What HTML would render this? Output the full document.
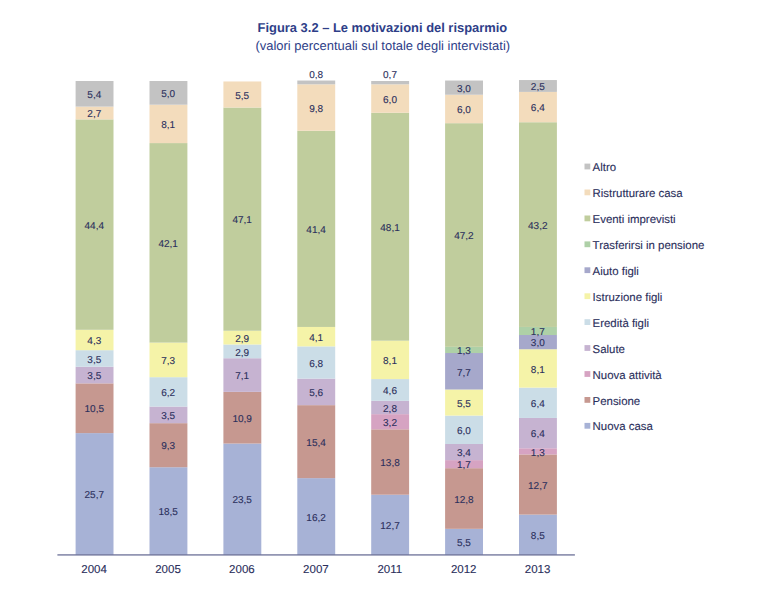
<!DOCTYPE html>
<html><head><meta charset="utf-8"><title>Figura 3.2</title>
<style>
html,body{margin:0;padding:0;background:#fff;}
body{width:760px;height:598px;overflow:hidden;font-family:"Liberation Sans",sans-serif;}
svg{display:block}
text{font-family:"Liberation Sans",sans-serif;text-rendering:geometricPrecision;stroke-width:0.12px;}
</style></head><body>
<svg width="760" height="598" viewBox="0 0 760 598">
<rect width="760" height="598" fill="#ffffff"/>
<text x="382.4" y="32.2" text-anchor="middle" font-size="12.92" font-weight="bold" fill="#2e3e88">Figura 3.2 – Le motivazioni del risparmio</text>
<text x="382.8" y="49.8" text-anchor="middle" font-size="12.95" fill="#2e3e88">(valori percentuali sul totale degli intervistati)</text>
<rect x="75.6" y="433.11" width="37.9" height="121.79" fill="#a7b2d6"/>
<rect x="75.6" y="383.35" width="37.9" height="49.76" fill="#c69890"/>
<rect x="75.6" y="366.76" width="37.9" height="16.59" fill="#c6b3d1"/>
<rect x="75.6" y="350.18" width="37.9" height="16.59" fill="#cbdde7"/>
<rect x="75.6" y="329.80" width="37.9" height="20.38" fill="#f5f3a8"/>
<rect x="75.6" y="119.39" width="37.9" height="210.41" fill="#c0cd9d"/>
<rect x="75.6" y="106.59" width="37.9" height="12.80" fill="#f3dcbc"/>
<rect x="75.6" y="81.00" width="37.9" height="25.59" fill="#c3c3c3"/>
<text x="94.1" y="572.7" text-anchor="middle" font-size="11.5" fill="#2b2f5c" stroke="#2b2f5c">2004</text>
<rect x="149.5" y="467.23" width="37.9" height="87.67" fill="#a7b2d6"/>
<rect x="149.5" y="423.16" width="37.9" height="44.07" fill="#c69890"/>
<rect x="149.5" y="406.57" width="37.9" height="16.59" fill="#c6b3d1"/>
<rect x="149.5" y="377.19" width="37.9" height="29.38" fill="#cbdde7"/>
<rect x="149.5" y="342.59" width="37.9" height="34.59" fill="#f5f3a8"/>
<rect x="149.5" y="143.08" width="37.9" height="199.51" fill="#c0cd9d"/>
<rect x="149.5" y="104.70" width="37.9" height="38.39" fill="#f3dcbc"/>
<rect x="149.5" y="81.00" width="37.9" height="23.70" fill="#c3c3c3"/>
<text x="168.0" y="572.7" text-anchor="middle" font-size="11.5" fill="#2b2f5c" stroke="#2b2f5c">2005</text>
<rect x="223.4" y="443.53" width="37.9" height="111.37" fill="#a7b2d6"/>
<rect x="223.4" y="391.88" width="37.9" height="51.66" fill="#c69890"/>
<rect x="223.4" y="358.23" width="37.9" height="33.65" fill="#c6b3d1"/>
<rect x="223.4" y="344.49" width="37.9" height="13.74" fill="#cbdde7"/>
<rect x="223.4" y="330.75" width="37.9" height="13.74" fill="#f5f3a8"/>
<rect x="223.4" y="107.54" width="37.9" height="223.21" fill="#c0cd9d"/>
<rect x="223.4" y="81.47" width="37.9" height="26.06" fill="#f3dcbc"/>
<text x="241.9" y="572.7" text-anchor="middle" font-size="11.5" fill="#2b2f5c" stroke="#2b2f5c">2006</text>
<rect x="297.3" y="478.13" width="37.9" height="76.77" fill="#a7b2d6"/>
<rect x="297.3" y="405.15" width="37.9" height="72.98" fill="#c69890"/>
<rect x="297.3" y="378.61" width="37.9" height="26.54" fill="#c6b3d1"/>
<rect x="297.3" y="346.38" width="37.9" height="32.23" fill="#cbdde7"/>
<rect x="297.3" y="326.95" width="37.9" height="19.43" fill="#f5f3a8"/>
<rect x="297.3" y="130.76" width="37.9" height="196.19" fill="#c0cd9d"/>
<rect x="297.3" y="84.32" width="37.9" height="46.44" fill="#f3dcbc"/>
<rect x="297.3" y="80.53" width="37.9" height="3.79" fill="#c3c3c3"/>
<text x="315.9" y="572.7" text-anchor="middle" font-size="11.5" fill="#2b2f5c" stroke="#2b2f5c">2007</text>
<rect x="371.2" y="494.71" width="37.9" height="60.19" fill="#a7b2d6"/>
<rect x="371.2" y="429.32" width="37.9" height="65.40" fill="#c69890"/>
<rect x="371.2" y="414.15" width="37.9" height="15.16" fill="#d6a3c2"/>
<rect x="371.2" y="400.88" width="37.9" height="13.27" fill="#c6b3d1"/>
<rect x="371.2" y="379.08" width="37.9" height="21.80" fill="#cbdde7"/>
<rect x="371.2" y="340.70" width="37.9" height="38.39" fill="#f5f3a8"/>
<rect x="371.2" y="112.75" width="37.9" height="227.95" fill="#c0cd9d"/>
<rect x="371.2" y="84.32" width="37.9" height="28.43" fill="#f3dcbc"/>
<rect x="371.2" y="81.00" width="37.9" height="3.32" fill="#c3c3c3"/>
<text x="389.8" y="572.7" text-anchor="middle" font-size="11.5" fill="#2b2f5c" stroke="#2b2f5c">2011</text>
<rect x="445.1" y="528.84" width="37.9" height="26.06" fill="#a7b2d6"/>
<rect x="445.1" y="468.18" width="37.9" height="60.66" fill="#c69890"/>
<rect x="445.1" y="460.12" width="37.9" height="8.06" fill="#d6a3c2"/>
<rect x="445.1" y="444.01" width="37.9" height="16.11" fill="#c6b3d1"/>
<rect x="445.1" y="415.57" width="37.9" height="28.43" fill="#cbdde7"/>
<rect x="445.1" y="389.51" width="37.9" height="26.06" fill="#f5f3a8"/>
<rect x="445.1" y="353.02" width="37.9" height="36.49" fill="#a6a8cb"/>
<rect x="445.1" y="346.86" width="37.9" height="6.16" fill="#aed0a7"/>
<rect x="445.1" y="123.18" width="37.9" height="223.68" fill="#c0cd9d"/>
<rect x="445.1" y="94.74" width="37.9" height="28.43" fill="#f3dcbc"/>
<rect x="445.1" y="80.53" width="37.9" height="14.22" fill="#c3c3c3"/>
<text x="463.7" y="572.7" text-anchor="middle" font-size="11.5" fill="#2b2f5c" stroke="#2b2f5c">2012</text>
<rect x="519.0" y="514.62" width="37.9" height="40.28" fill="#a7b2d6"/>
<rect x="519.0" y="454.43" width="37.9" height="60.19" fill="#c69890"/>
<rect x="519.0" y="448.27" width="37.9" height="6.16" fill="#d6a3c2"/>
<rect x="519.0" y="417.94" width="37.9" height="30.33" fill="#c6b3d1"/>
<rect x="519.0" y="387.61" width="37.9" height="30.33" fill="#cbdde7"/>
<rect x="519.0" y="349.23" width="37.9" height="38.39" fill="#f5f3a8"/>
<rect x="519.0" y="335.01" width="37.9" height="14.22" fill="#a6a8cb"/>
<rect x="519.0" y="326.95" width="37.9" height="8.06" fill="#aed0a7"/>
<rect x="519.0" y="122.23" width="37.9" height="204.72" fill="#c0cd9d"/>
<rect x="519.0" y="91.90" width="37.9" height="30.33" fill="#f3dcbc"/>
<rect x="519.0" y="80.05" width="37.9" height="11.85" fill="#c3c3c3"/>
<text x="537.6" y="572.7" text-anchor="middle" font-size="11.5" fill="#2b2f5c" stroke="#2b2f5c">2013</text>
<text x="94.3" y="498.2" text-anchor="middle" font-size="10" fill="#2b2f5c" stroke="#2b2f5c">25,7</text>
<text x="94.3" y="412.4" text-anchor="middle" font-size="10" fill="#2b2f5c" stroke="#2b2f5c">10,5</text>
<text x="94.3" y="379.3" text-anchor="middle" font-size="10" fill="#2b2f5c" stroke="#2b2f5c">3,5</text>
<text x="94.3" y="362.7" text-anchor="middle" font-size="10" fill="#2b2f5c" stroke="#2b2f5c">3,5</text>
<text x="94.3" y="344.2" text-anchor="middle" font-size="10" fill="#2b2f5c" stroke="#2b2f5c">4,3</text>
<text x="94.3" y="228.8" text-anchor="middle" font-size="10" fill="#2b2f5c" stroke="#2b2f5c">44,4</text>
<text x="94.3" y="117.2" text-anchor="middle" font-size="10" fill="#2b2f5c" stroke="#2b2f5c">2,7</text>
<text x="94.3" y="98.0" text-anchor="middle" font-size="10" fill="#2b2f5c" stroke="#2b2f5c">5,4</text>
<text x="168.2" y="515.3" text-anchor="middle" font-size="10" fill="#2b2f5c" stroke="#2b2f5c">18,5</text>
<text x="168.2" y="449.4" text-anchor="middle" font-size="10" fill="#2b2f5c" stroke="#2b2f5c">9,3</text>
<text x="168.2" y="419.1" text-anchor="middle" font-size="10" fill="#2b2f5c" stroke="#2b2f5c">3,5</text>
<text x="168.2" y="396.1" text-anchor="middle" font-size="10" fill="#2b2f5c" stroke="#2b2f5c">6,2</text>
<text x="168.2" y="364.1" text-anchor="middle" font-size="10" fill="#2b2f5c" stroke="#2b2f5c">7,3</text>
<text x="168.2" y="247.0" text-anchor="middle" font-size="10" fill="#2b2f5c" stroke="#2b2f5c">42,1</text>
<text x="168.2" y="128.1" text-anchor="middle" font-size="10" fill="#2b2f5c" stroke="#2b2f5c">8,1</text>
<text x="168.2" y="97.0" text-anchor="middle" font-size="10" fill="#2b2f5c" stroke="#2b2f5c">5,0</text>
<text x="242.2" y="503.4" text-anchor="middle" font-size="10" fill="#2b2f5c" stroke="#2b2f5c">23,5</text>
<text x="242.2" y="421.9" text-anchor="middle" font-size="10" fill="#2b2f5c" stroke="#2b2f5c">10,9</text>
<text x="242.2" y="379.3" text-anchor="middle" font-size="10" fill="#2b2f5c" stroke="#2b2f5c">7,1</text>
<text x="242.2" y="355.6" text-anchor="middle" font-size="10" fill="#2b2f5c" stroke="#2b2f5c">2,9</text>
<text x="242.2" y="341.8" text-anchor="middle" font-size="10" fill="#2b2f5c" stroke="#2b2f5c">2,9</text>
<text x="242.2" y="223.3" text-anchor="middle" font-size="10" fill="#2b2f5c" stroke="#2b2f5c">47,1</text>
<text x="242.2" y="98.7" text-anchor="middle" font-size="10" fill="#2b2f5c" stroke="#2b2f5c">5,5</text>
<text x="316.1" y="520.7" text-anchor="middle" font-size="10" fill="#2b2f5c" stroke="#2b2f5c">16,2</text>
<text x="316.1" y="445.8" text-anchor="middle" font-size="10" fill="#2b2f5c" stroke="#2b2f5c">15,4</text>
<text x="316.1" y="396.1" text-anchor="middle" font-size="10" fill="#2b2f5c" stroke="#2b2f5c">5,6</text>
<text x="316.1" y="366.7" text-anchor="middle" font-size="10" fill="#2b2f5c" stroke="#2b2f5c">6,8</text>
<text x="316.1" y="340.9" text-anchor="middle" font-size="10" fill="#2b2f5c" stroke="#2b2f5c">4,1</text>
<text x="316.1" y="233.1" text-anchor="middle" font-size="10" fill="#2b2f5c" stroke="#2b2f5c">41,4</text>
<text x="316.1" y="111.7" text-anchor="middle" font-size="10" fill="#2b2f5c" stroke="#2b2f5c">9,8</text>
<text x="316.1" y="77.6" text-anchor="middle" font-size="10" fill="#2b2f5c" stroke="#2b2f5c">0,8</text>
<text x="390.0" y="529.0" text-anchor="middle" font-size="10" fill="#2b2f5c" stroke="#2b2f5c">12,7</text>
<text x="390.0" y="466.2" text-anchor="middle" font-size="10" fill="#2b2f5c" stroke="#2b2f5c">13,8</text>
<text x="390.0" y="425.9" text-anchor="middle" font-size="10" fill="#2b2f5c" stroke="#2b2f5c">3,2</text>
<text x="390.0" y="411.7" text-anchor="middle" font-size="10" fill="#2b2f5c" stroke="#2b2f5c">2,8</text>
<text x="390.0" y="394.2" text-anchor="middle" font-size="10" fill="#2b2f5c" stroke="#2b2f5c">4,6</text>
<text x="390.0" y="364.1" text-anchor="middle" font-size="10" fill="#2b2f5c" stroke="#2b2f5c">8,1</text>
<text x="390.0" y="230.9" text-anchor="middle" font-size="10" fill="#2b2f5c" stroke="#2b2f5c">48,1</text>
<text x="390.0" y="102.7" text-anchor="middle" font-size="10" fill="#2b2f5c" stroke="#2b2f5c">6,0</text>
<text x="390.0" y="78.1" text-anchor="middle" font-size="10" fill="#2b2f5c" stroke="#2b2f5c">0,7</text>
<text x="463.9" y="546.1" text-anchor="middle" font-size="10" fill="#2b2f5c" stroke="#2b2f5c">5,5</text>
<text x="463.9" y="502.7" text-anchor="middle" font-size="10" fill="#2b2f5c" stroke="#2b2f5c">12,8</text>
<text x="463.9" y="468.3" text-anchor="middle" font-size="10" fill="#2b2f5c" stroke="#2b2f5c">1,7</text>
<text x="463.9" y="456.3" text-anchor="middle" font-size="10" fill="#2b2f5c" stroke="#2b2f5c">3,4</text>
<text x="463.9" y="434.0" text-anchor="middle" font-size="10" fill="#2b2f5c" stroke="#2b2f5c">6,0</text>
<text x="463.9" y="406.7" text-anchor="middle" font-size="10" fill="#2b2f5c" stroke="#2b2f5c">5,5</text>
<text x="463.9" y="375.5" text-anchor="middle" font-size="10" fill="#2b2f5c" stroke="#2b2f5c">7,7</text>
<text x="463.9" y="354.1" text-anchor="middle" font-size="10" fill="#2b2f5c" stroke="#2b2f5c">1,3</text>
<text x="463.9" y="239.2" text-anchor="middle" font-size="10" fill="#2b2f5c" stroke="#2b2f5c">47,2</text>
<text x="463.9" y="113.2" text-anchor="middle" font-size="10" fill="#2b2f5c" stroke="#2b2f5c">6,0</text>
<text x="463.9" y="91.8" text-anchor="middle" font-size="10" fill="#2b2f5c" stroke="#2b2f5c">3,0</text>
<text x="537.8" y="539.0" text-anchor="middle" font-size="10" fill="#2b2f5c" stroke="#2b2f5c">8,5</text>
<text x="537.8" y="488.7" text-anchor="middle" font-size="10" fill="#2b2f5c" stroke="#2b2f5c">12,7</text>
<text x="537.8" y="455.6" text-anchor="middle" font-size="10" fill="#2b2f5c" stroke="#2b2f5c">1,3</text>
<text x="537.8" y="437.3" text-anchor="middle" font-size="10" fill="#2b2f5c" stroke="#2b2f5c">6,4</text>
<text x="537.8" y="407.0" text-anchor="middle" font-size="10" fill="#2b2f5c" stroke="#2b2f5c">6,4</text>
<text x="537.8" y="372.6" text-anchor="middle" font-size="10" fill="#2b2f5c" stroke="#2b2f5c">8,1</text>
<text x="537.8" y="346.3" text-anchor="middle" font-size="10" fill="#2b2f5c" stroke="#2b2f5c">3,0</text>
<text x="537.8" y="335.2" text-anchor="middle" font-size="10" fill="#2b2f5c" stroke="#2b2f5c">1,7</text>
<text x="537.8" y="228.8" text-anchor="middle" font-size="10" fill="#2b2f5c" stroke="#2b2f5c">43,2</text>
<text x="537.8" y="111.3" text-anchor="middle" font-size="10" fill="#2b2f5c" stroke="#2b2f5c">6,4</text>
<text x="537.8" y="90.2" text-anchor="middle" font-size="10" fill="#2b2f5c" stroke="#2b2f5c">2,5</text>
<rect x="57.4" y="554.1" width="517.5" height="1.6" fill="rgba(108,113,152,0.82)"/>
<rect x="584.5" y="163.6" width="5.8" height="5.8" fill="#c3c3c3"/>
<text x="592.6" y="171.1" font-size="11.42" fill="#2b2f5c" stroke="#2b2f5c">Altro</text>
<rect x="584.5" y="189.5" width="5.8" height="5.8" fill="#f3dcbc"/>
<text x="592.6" y="197.0" font-size="11.42" fill="#2b2f5c" stroke="#2b2f5c">Ristrutturare casa</text>
<rect x="584.5" y="215.5" width="5.8" height="5.8" fill="#c0cd9d"/>
<text x="592.6" y="223.0" font-size="11.42" fill="#2b2f5c" stroke="#2b2f5c">Eventi imprevisti</text>
<rect x="584.5" y="241.4" width="5.8" height="5.8" fill="#aed0a7"/>
<text x="592.6" y="248.9" font-size="11.42" fill="#2b2f5c" stroke="#2b2f5c">Trasferirsi in pensione</text>
<rect x="584.5" y="267.3" width="5.8" height="5.8" fill="#a6a8cb"/>
<text x="592.6" y="274.8" font-size="11.42" fill="#2b2f5c" stroke="#2b2f5c">Aiuto figli</text>
<rect x="584.5" y="293.3" width="5.8" height="5.8" fill="#f5f3a8"/>
<text x="592.6" y="300.8" font-size="11.42" fill="#2b2f5c" stroke="#2b2f5c">Istruzione figli</text>
<rect x="584.5" y="319.2" width="5.8" height="5.8" fill="#cbdde7"/>
<text x="592.6" y="326.7" font-size="11.42" fill="#2b2f5c" stroke="#2b2f5c">Eredità figli</text>
<rect x="584.5" y="345.1" width="5.8" height="5.8" fill="#c6b3d1"/>
<text x="592.6" y="352.6" font-size="11.42" fill="#2b2f5c" stroke="#2b2f5c">Salute</text>
<rect x="584.5" y="371.1" width="5.8" height="5.8" fill="#d6a3c2"/>
<text x="592.6" y="378.6" font-size="11.42" fill="#2b2f5c" stroke="#2b2f5c">Nuova attività</text>
<rect x="584.5" y="397.0" width="5.8" height="5.8" fill="#c69890"/>
<text x="592.6" y="404.5" font-size="11.42" fill="#2b2f5c" stroke="#2b2f5c">Pensione</text>
<rect x="584.5" y="422.9" width="5.8" height="5.8" fill="#a7b2d6"/>
<text x="592.6" y="430.4" font-size="11.42" fill="#2b2f5c" stroke="#2b2f5c">Nuova casa</text>
</svg>
</body></html>
